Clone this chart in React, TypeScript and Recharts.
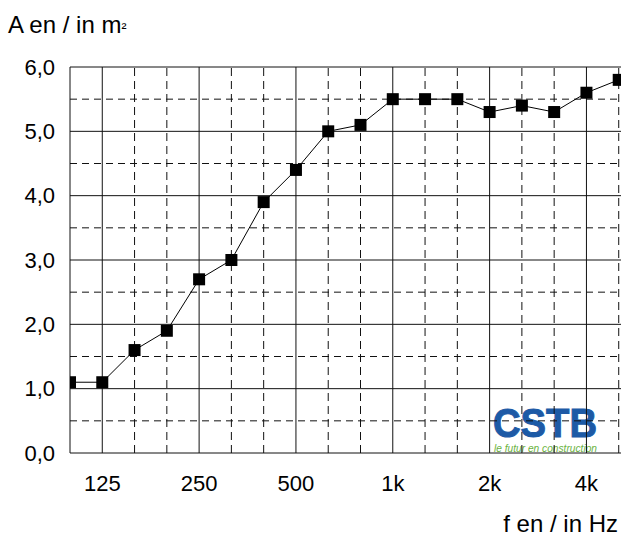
import React from 'react';
import { LineChart, Line, XAxis, YAxis, ReferenceLine } from 'recharts';

// third-octave bands, index used as x position
const bands = ['100', '125', '160', '200', '250', '315', '400', '500', '630', '800', '1k', '1.25k', '1.6k', '2k', '2.5k', '3.15k', '4k', '5k'];
const absorption = [1.1, 1.1, 1.6, 1.9, 2.7, 3.0, 3.9, 4.4, 5.0, 5.1, 5.5, 5.5, 5.5, 5.3, 5.4, 5.3, 5.6, 5.8];
const octaveLabels = ['125', '250', '500', '1k', '2k', '4k'];
const yMajor = [0, 1, 2, 3, 4, 5, 6];
const yMinor = [0.5, 1.5, 2.5, 3.5, 4.5, 5.5];

const data = bands.map((band, i) => ({ i, band, a: absorption[i] }));
const xMajor = octaveLabels.map((l) => bands.indexOf(l));
const xMinor = bands.map((_, i) => i).filter((i) => i > 0 && !xMajor.includes(i));

const FONT = '"Liberation Sans", Arial, sans-serif';
const GRID = '#111';

const SquareDot = (props: any) => {
    const { cx, cy, index } = props;
    if (cx == null || cy == null) return <g key={index} />;
    return <rect key={index} x={cx - 6} y={cy - 6} width={12} height={12} fill="#000" />;
};

export default function App() {
    return (
        <div style={{ position: 'fixed', left: 0, top: 0, width: 621, height: 536, overflow: 'hidden', background: '#fff', fontFamily: FONT }}>
            <svg width={621} height={536} style={{ position: 'absolute', left: 0, top: 0 }}>
                <text x={8} y={33} fontSize={24} fontFamily={FONT} fill="#000">
                    A en / in m<tspan fontSize={15}>²</tspan>
                </text>
                <text x={618} y={532} fontSize={24} fontFamily={FONT} fill="#000" textAnchor="end">f en / in Hz</text>
                <text x={493} y={437} fontSize={40} fontWeight="bold" fontFamily={FONT} fill="#1d5aa6" stroke="#1d5aa6" strokeWidth={1} textLength={104} lengthAdjust="spacingAndGlyphs">CSTB</text>
                <text x={494} y={452} fontSize={10} fontStyle="italic" fontFamily={FONT} fill="#6ab23e" textLength={103} lengthAdjust="spacingAndGlyphs">le futur en construction</text>
            </svg>
            <div style={{ position: 'absolute', left: 0, top: 0 }}>
                <LineChart width={660} height={536} data={data} margin={{ top: 67, right: 9, left: 0, bottom: 0 }}>
                    <XAxis
                        dataKey="i"
                        type="number"
                        domain={[0, 18]}
                        allowDataOverflow
                        ticks={xMajor}
                        tickFormatter={(v) => bands[v]}
                        tick={{ fontSize: 22, fill: '#000', fontFamily: FONT }}
                        tickLine={false}
                        axisLine={false}
                        tickSize={0}
                        tickMargin={22}
                        height={83}
                    />
                    <YAxis
                        type="number"
                        domain={[0, 6]}
                        ticks={yMajor}
                        tickFormatter={(v) => v.toFixed(1).replace('.', ',')}
                        tick={{ fontSize: 22, fill: '#000', fontFamily: FONT }}
                        tickLine={false}
                        axisLine={false}
                        tickSize={0}
                        tickMargin={15}
                        width={70}
                    />
                    {yMinor.map((y) => (
                        <ReferenceLine key={'ym' + y} y={y} stroke={GRID} strokeDasharray="7 5" />
                    ))}
                    {xMinor.map((x) => (
                        <ReferenceLine key={'xm' + x} x={x} stroke={GRID} strokeDasharray="8 5" />
                    ))}
                    {yMajor.map((y) => (
                        <ReferenceLine key={'yM' + y} y={y} stroke={GRID} />
                    ))}
                    <ReferenceLine x={0} stroke={GRID} />
                    {xMajor.map((x) => (
                        <ReferenceLine key={'xM' + x} x={x} stroke={GRID} />
                    ))}
                    <Line
                        dataKey="a"
                        stroke="#000"
                        strokeWidth={1}
                        dot={SquareDot}
                        activeDot={false}
                        isAnimationActive={false}
                    />
                </LineChart>
            </div>
        </div>
    );
}
